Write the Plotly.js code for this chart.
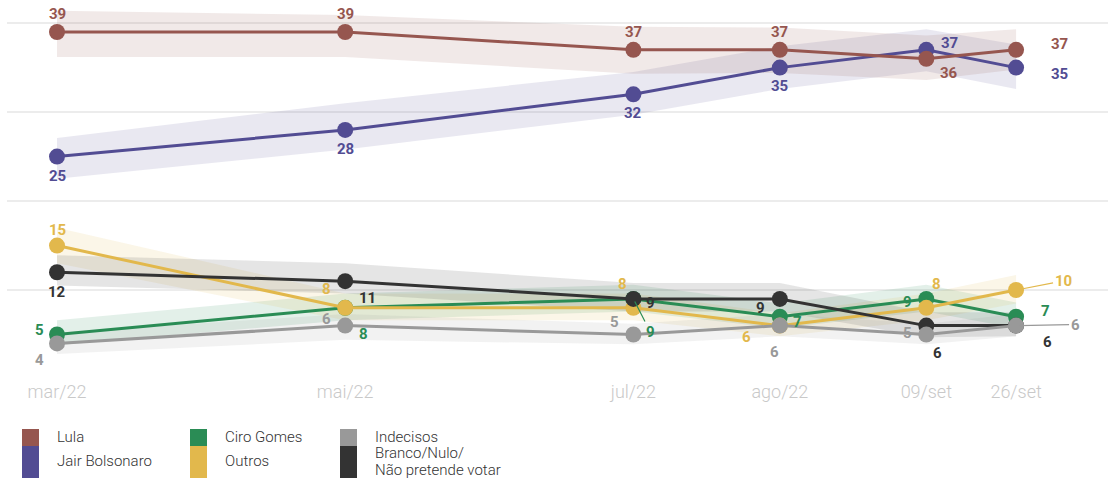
<!DOCTYPE html>
<html>
<head>
<meta charset="utf-8">
<script src="https://cdn.plot.ly/plotly-3.0.1.min.js"></script>
<style>html,body{margin:0;padding:0;background:#fff;}#chart{width:1108px;height:478px;}</style>
</head>
<body>
<div id="chart"></div>
<script>
// ---- data ----
const dates = ['2022-03-01','2022-05-01','2022-07-01','2022-08-01','2022-09-01','2022-09-20'];
const tickLabels = ['mar/22','mai/22','jul/22','ago/22','09/set','26/set'];

const lula      = [39, 39, 37, 37, 36, 37];
const lulaHi    = [41.4, 40.9, 39.6, 39.5, 38.6, 39.3];
const lulaLo    = [36.2, 36.2, 34.3, 34.4, 33.6, 34.8];

const bolsonaro   = [25, 28, 32, 35, 37, 35];
const bolsonaroHi = [27.1, 31.0, 34.5, 37.4, 39.3, 37.6];
const bolsonaroLo = [22.5, 25.8, 29.7, 32.6, 34.6, 32.6];

const ciro   = [5, 8, 9, 7, 9, 7];
const ciroHi = [6.6, 9.6, 10.6, 8.5, 10.6, 8.6];
const ciroLo = [3.8, 6.6, 7.6, 5.7, 7.6, 5.7];

const outros   = [15, 8, 8, 6, 8, 10];
const outrosHi = [17.0, 9.6, 9.6, 7.4, 9.6, 11.7];
const outrosLo = [13.0, 6.6, 6.6, 4.8, 6.6, 8.5];

const indecisos   = [4, 6, 5, 6, 5, 6];
const indecisosHi = [5.2, 7.3, 6.2, 7.3, 6.2, 7.3];
const indecisosLo = [2.8, 4.4, 3.9, 4.8, 3.9, 4.8];

const branco   = [12, 11, 9, 9, 6, 6];
const brancoHi = [13.9, 13.0, 10.8, 10.8, 7.5, 7.5];
const brancoLo = [10.5, 9.6, 7.6, 7.6, 4.7, 4.8];

const gridValues = [10, 20, 30, 40];

// ---- styles ----
const series = [
  {name:'Jair Bolsonaro', v:bolsonaro, hi:bolsonaroHi, lo:bolsonaroLo, color:'#524c93', rgb:'82,76,147',
   off:[[0,-19],[0,-19],[0,-19],[0,-18],[23,7],[43,-6]]},
  {name:'Lula', v:lula, hi:lulaHi, lo:lulaLo, color:'#96564f', rgb:'150,86,79',
   off:[[0,18],[0,18],[0,18],[0,18],[23,-14],[43,6]]},
  {name:'Ciro Gomes', v:ciro, hi:ciroHi, lo:ciroLo, color:'#2a8c55', rgb:'42,140,85',
   off:[[-18,5],[18,-26],{ax:17,ay:33},[18,-5],[-19,-3],[29,6]]},
  {name:'Outros', v:outros, hi:outrosHi, lo:outrosLo, color:'#e2b84c', rgb:'226,184,76',
   off:[[0,16],[-19,19],[-11,24],[-33,-11],[10,24],{ax:47,ay:-9}]},
  {name:'Branco/Nulo/Não pretende votar', v:branco, hi:brancoHi, lo:brancoLo, color:'#333333', rgb:'51,51,51',
   off:[[0,-20],[22,-17],[17,-4],[-19,-9],[11,-27],[31,-16]]},
  {name:'Indecisos', v:indecisos, hi:indecisosHi, lo:indecisosLo, color:'#999999', rgb:'153,153,153',
   off:[[-18,-17],[-19,7],[-19,13],[-5,-26],[-19,2],{ax:59,ay:-1}]}
];

const traces = [];
// bands
series.forEach(s => {
  traces.push({
    x: dates.concat(dates.slice().reverse()),
    y: s.hi.concat(s.lo.slice().reverse()),
    type:'scatter', mode:'lines', fill:'toself',
    fillcolor:'rgba(' + s.rgb + ',0.13)',
    line:{width:0, color:'rgba(0,0,0,0)'},
    hoverinfo:'skip', showlegend:false
  });
});
// lines
series.forEach(s => {
  traces.push({
    x: dates, y: s.v, type:'scatter', mode:'lines+markers', name:s.name,
    line:{color:s.color, width:3},
    marker:{color:s.color, size:16},
    showlegend:false, cliponaxis:false
  });
});

const annotations = [];
const labelFont = (c) => ({family:'Roboto, Arial, sans-serif', size:15, color:c, weight:700});
series.forEach(s => {
  s.v.forEach((val, i) => {
    const o = s.off[i];
    if (Array.isArray(o)) {
      annotations.push({x:dates[i], y:val, xref:'x', yref:'y', text:String(val), showarrow:false,
        xshift:o[0], yshift:o[1], font:labelFont(s.color)});
    } else {
      annotations.push({x:dates[i], y:val, xref:'x', yref:'y', text:String(val), showarrow:true,
        ax:o.ax, ay:o.ay, arrowhead:0, arrowwidth:1.2, arrowcolor:s.color, standoff:3,
        font:labelFont(s.color)});
    }
  });
});

// custom legend (pixel positions converted to paper coords)
const L = 7, W = 1101, PB = 379, H = 379;
const px = x => (x - L) / W;
const py = y => (PB - y) / H;
const legendItems = [
  {text:'Lula', color:'#96564f', x:22, y0:429, y1:446, ty:437},
  {text:'Jair Bolsonaro', color:'#524c93', x:22, y0:446, y1:480, ty:461},
  {text:'Ciro Gomes', color:'#2a8c55', x:190, y0:429, y1:446, ty:437},
  {text:'Outros', color:'#e2b84c', x:190, y0:446, y1:480, ty:461},
  {text:'Indecisos', color:'#999999', x:340, y0:429, y1:446, ty:437},
  {text:'Branco/Nulo/', color:'#333333', x:340, y0:446, y1:480, ty:453, extra:'Não pretende votar', ty2:470}
];
const shapes = [];
legendItems.forEach(it => {
  shapes.push({type:'rect', xref:'paper', yref:'paper', x0:px(it.x), x1:px(it.x+17), y0:py(it.y1), y1:py(it.y0),
    fillcolor:it.color, line:{width:0}, layer:'above'});
  const lf = {family:'Roboto, Arial, sans-serif', size:15, color:'#333', weight:300};
  annotations.push({xref:'paper', yref:'paper', x:px(it.x+33), y:py(it.ty), text:it.text, showarrow:false,
    xanchor:'left', yanchor:'middle', font:lf});
  if (it.extra) {
    annotations.push({xref:'paper', yref:'paper', x:px(it.x+33), y:py(it.ty2), text:it.extra, showarrow:false,
      xanchor:'left', yanchor:'middle', font:lf});
  }
});

const layout = {
  width:1108, height:478,
  margin:{l:L, r:0, t:0, b:99},
  paper_bgcolor:'#ffffff', plot_bgcolor:'#ffffff',
  showlegend:false,
  xaxis:{type:'date', range:['2022-02-18 10:00','2022-10-09 11:00'],
    tickvals:dates, ticktext:tickLabels, showgrid:false, zeroline:false, showline:false, ticks:'',
    tickfont:{family:'Roboto, Arial, sans-serif', size:18, color:'#c9c9c9', weight:300}},
  yaxis:{range:[0,42.6], tickvals:gridValues, showticklabels:false, showgrid:true,
    gridcolor:'#ececec', gridwidth:2, zeroline:false, showline:false, ticks:''},
  annotations:annotations,
  shapes:shapes
};

Plotly.newPlot('chart', traces, layout, {displayModeBar:false, staticPlot:true});
</script>
</body>
</html>
